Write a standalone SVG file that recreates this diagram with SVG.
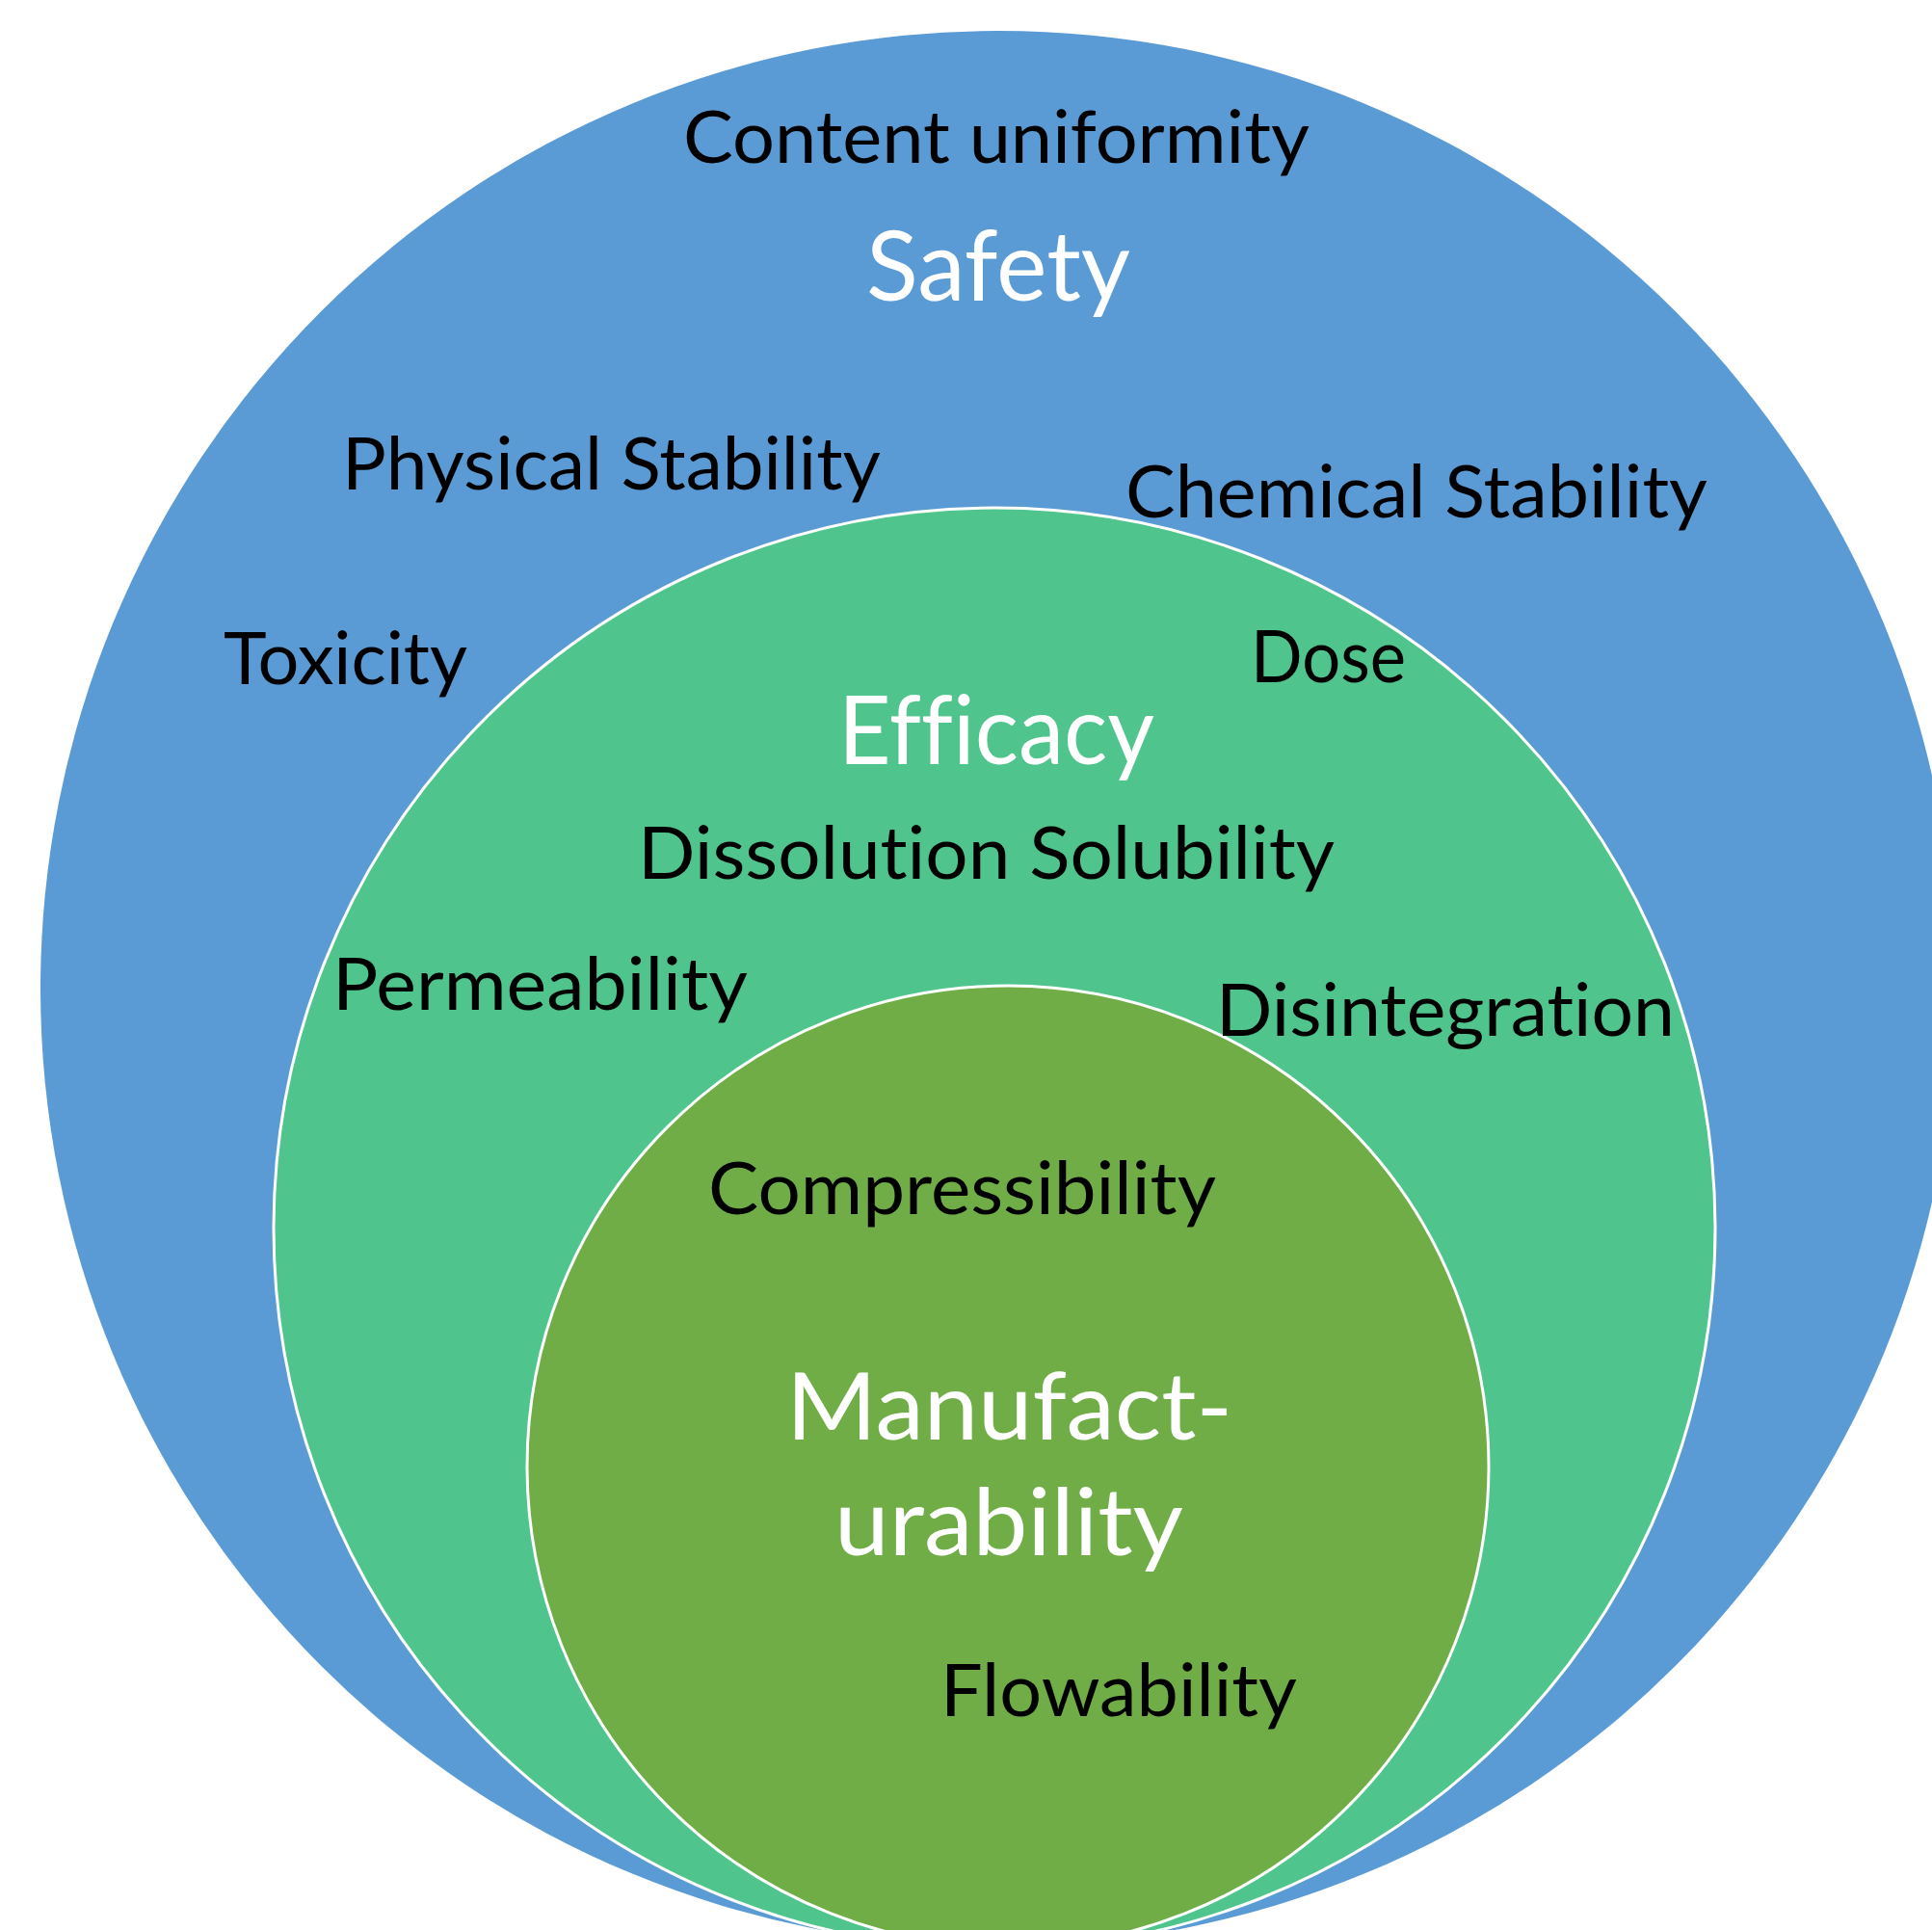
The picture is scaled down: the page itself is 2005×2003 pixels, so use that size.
<svg xmlns="http://www.w3.org/2000/svg" width="2005" height="2003" viewBox="0 0 2005 2003">
  <style>
    .lbl { font-family: Lato, "Open Sans", "Liberation Sans", sans-serif; font-size: 76px; fill: #000; font-variant-ligatures: none; font-feature-settings: "liga" 0, "clig" 0, "dlig" 0; }
    .title { font-family: Lato, "Open Sans", "Liberation Sans", sans-serif; fill: #fff; font-variant-ligatures: none; font-feature-settings: "liga" 0, "clig" 0, "dlig" 0; }
    .ring { stroke: #fff; stroke-width: 3; }
  </style>
  <rect x="0" y="0" width="2005" height="2003" fill="#fff"/>
  <g id="safety">
    <circle cx="1036" cy="1026" r="994" fill="#5B9BD5"/>
  </g>
  <g id="efficacy">
    <circle class="ring" cx="1032" cy="1275" r="748" fill="#4FC58D"/>
  </g>
  <g id="manufacturability">
    <circle class="ring" cx="1046" cy="1522" r="499" fill="#70AD47"/>
  </g>
  <g id="connectors"></g>
  <g id="labels">
    <g id="safety-labels">
      <text class="lbl" x="709" y="169" textLength="650" lengthAdjust="spacingAndGlyphs">Content uniformity</text>
      <text class="title" x="899" y="312" font-size="100" textLength="274" lengthAdjust="spacingAndGlyphs">Safety</text>
      <text class="lbl" x="355" y="508" textLength="559" lengthAdjust="spacingAndGlyphs">Physical Stability</text>
      <text class="lbl" x="232" y="710" textLength="253" lengthAdjust="spacingAndGlyphs">Toxicity</text>
      <text class="lbl" x="1168" y="537" textLength="604" lengthAdjust="spacingAndGlyphs">Chemical Stability</text>
    </g>
    <g id="efficacy-labels">
      <text class="lbl" x="1298" y="708" textLength="161" lengthAdjust="spacingAndGlyphs">Dose</text>
      <text class="title" x="870" y="793" font-size="98" textLength="328" lengthAdjust="spacingAndGlyphs">Efficacy</text>
      <text class="lbl" x="662" y="912" textLength="723" lengthAdjust="spacingAndGlyphs">Dissolution Solubility</text>
      <text class="lbl" x="345" y="1048" textLength="431" lengthAdjust="spacingAndGlyphs">Permeability</text>
      <text class="lbl" x="1262" y="1075" textLength="476" lengthAdjust="spacingAndGlyphs">Disintegration</text>
    </g>
    <g id="manufacturability-labels">
      <text class="lbl" x="735" y="1260" textLength="527" lengthAdjust="spacingAndGlyphs">Compressibility</text>
      <text class="title" x="816" y="1494" font-size="96" textLength="463" lengthAdjust="spacingAndGlyphs">Manufact-</text>
      <text class="title" x="866" y="1614" font-size="96" textLength="362" lengthAdjust="spacingAndGlyphs">urability</text>
      <text class="lbl" x="976" y="1781" textLength="370" lengthAdjust="spacingAndGlyphs">Flowability</text>
    </g>
  </g>
</svg>
